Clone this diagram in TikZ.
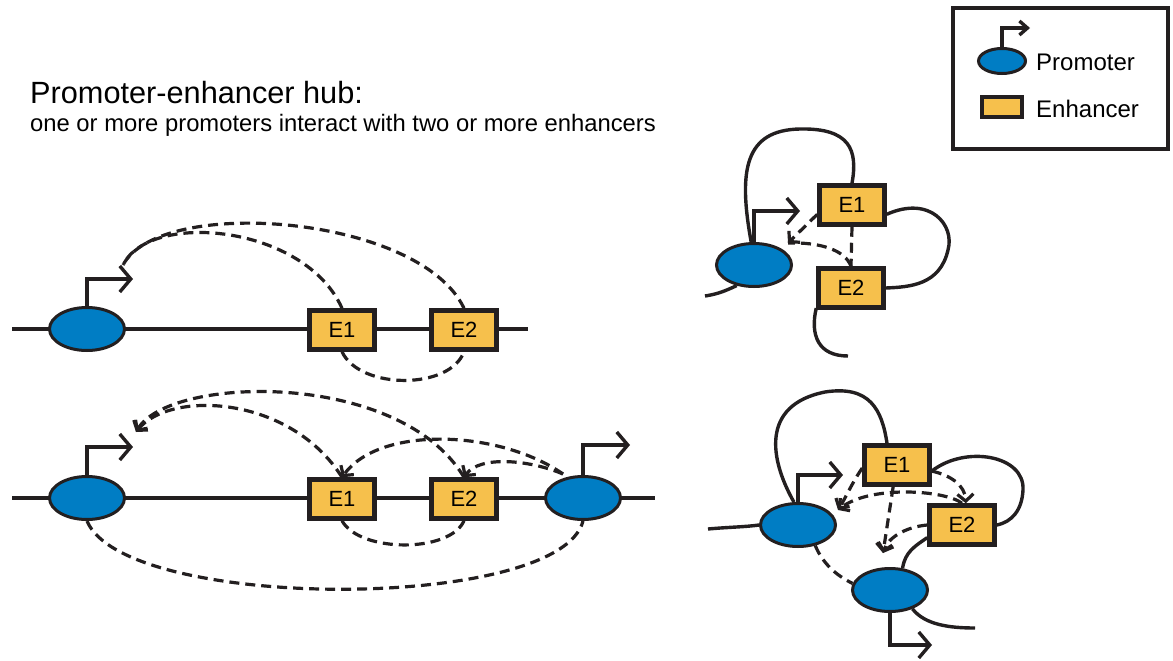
\documentclass[tikz,border=0pt]{standalone}
\usepackage{fontspec}
\setmainfont{Liberation Sans}
\usetikzlibrary{shapes.geometric,arrows.meta}
\definecolor{pblue}{RGB}{0,125,196}
\definecolor{eyellow}{RGB}{246,192,76}
\definecolor{ink}{RGB}{35,31,32}
\tikzset{
  dna/.style={line width=3.4pt,color=ink},
  prom/.style={ellipse,draw=ink,fill=pblue,line width=3pt,minimum width=75pt,minimum height=43pt,inner sep=0pt},
  enh/.style={rectangle,draw=ink,fill=eyellow,line width=4.5pt,minimum width=65pt,minimum height=39pt,inner sep=0pt,font=\fontsize{22}{24}\selectfont},
  tss/.style={line width=3.4pt,color=ink,-{Straight Barb[length=11pt,width=26pt]}},
  loopy/.style={line width=3.2pt,color=ink,dash pattern=on 10pt off 6pt},
  contact/.style={loopy,-{Straight Barb[length=7pt,width=16pt]}},
  lbl/.style={anchor=base west,inner sep=0pt}
}
\begin{document}
\begin{tikzpicture}[x=1pt,y=-1pt]
\useasboundingbox (0,0) rectangle (1173,661);
\node[lbl,font=\fontsize{30.7}{36}\selectfont] (ttl) at (30,103) {Promoter-enhancer hub:};
\node[lbl,font=\fontsize{23.8}{28}\selectfont] (sub) at (30,131) {one or more promoters interact with two or more enhancers};
% legend
\draw[line width=4.5pt,color=ink] (953,8) rectangle (1168,149);
\node[prom,minimum width=47pt,minimum height=25pt] (lp) at (1002,61) {};
\draw[tss,-{Straight Barb[length=8pt,width=14pt]}] (lp.north) |- (1030,28);
\node[enh,minimum width=40pt,minimum height=20pt] (le) at (1002,107) {};
\node[anchor=west,inner sep=0pt,font=\fontsize{24}{28}\selectfont] (ltp) at (1036,62) {Promoter};
\node[anchor=west,inner sep=0pt,font=\fontsize{24}{28}\selectfont] (lte) at (1036,109) {Enhancer};
% top linear
\draw[dna] (12,329) -- (528,329);
\node[prom] (pa) at (87,329) {};
\node[enh] (ea1) at (342,330) {E1};
\node[enh] (ea2) at (464,330) {E2};
\draw[tss] (pa.north) |- (133,279);
\coordinate (ja) at (123,265);
\draw[loopy] (ea1.north) .. controls (305,225) and (150,210) .. (ja);
\draw[loopy] (ea2.north) .. controls (420,215) and (160,195) .. (ja);
\draw[loopy] (ea1.south) .. controls (360,390) and (450,390) .. (ea2.south);
% bottom linear
\draw[dna] (12,498) -- (655,498);
\node[prom] (pb) at (87,498) {};
\node[enh] (eb1) at (342,499) {E1};
\node[enh] (eb2) at (464,499) {E2};
\node[prom] (pc) at (583,498) {};
\draw[tss] (pb.north) |- (133,447);
\draw[tss] (pc.north) |- (630,445);
\coordinate (jb) at (136,432);
\coordinate (jc) at (563,474);
\draw[contact] (eb1.north) .. controls (290,395) and (170,390) .. (jb);
\draw[contact] (eb2.north) .. controls (400,370) and (170,375) .. (jb);
\draw[contact] (jc) .. controls (500,430) and (380,425) .. (eb1.north);
\draw[contact] (jc) .. controls (530,460) and (480,455) .. (eb2.north);
\draw[loopy] (eb1.south) .. controls (360,553) and (450,553) .. (eb2.south);
\draw[loopy] (pb.south) .. controls (125,612) and (560,612) .. (pc.south);
% top hub
\node[prom] (hp) at (754,265) {};
\node[enh] (hx1) at (852,205) {E1};
\node[enh] (hx2) at (851,288) {E2};
\draw[tss] (hp.north) |- (800,211);
\coordinate (hr) at (705,296);
\coordinate (hk) at (848,356);
\coordinate (jd) at (788,243);
\draw[dna] (hp.97) .. controls (738,170) and (745,130) .. (800,129) .. controls (850,128) and (858,150) .. (hx1.north);
\draw[dna] (hx1.-15) .. controls (930,195) and (955,225) .. (948,250) .. controls (940,285) and (910,287) .. (hx2.east);
\draw[dna] (hx2.-150) .. controls (810,335) and (818,356) .. (hk);
\draw[dna] (hr) .. controls (718,294) and (725,291) .. (hp.-130);
\draw[contact] (hx1.195) -- (jd);
\draw[loopy] (hx2.north) .. controls (845,250) and (820,242) .. (jd);
\draw[loopy] (hx1.south) -- (hx2.north);
% bottom hub
\node[prom] (hq1) at (798,525) {};
\node[prom] (hq2) at (890,590) {};
\node[enh] (hf1) at (897,465) {E1};
\node[enh] (hf2) at (962,525) {E2};
\draw[tss] (hq1.north) |- (843,475);
\draw[tss] (hq2.south) |- (932,645);
\coordinate (hs) at (708,529);
\coordinate (ht) at (975,628);
\coordinate (je) at (838,510);
\coordinate (jf) at (883,553);
\draw[dna] (hq1.100) .. controls (770,460) and (760,405) .. (825,392) .. controls (870,385) and (882,410) .. ([xshift=-10pt]hf1.north);
\draw[dna] (hf1.-10) .. controls (965,445) and (1025,455) .. (1023,490) .. controls (1022,510) and (1012,522) .. (hf2.east);
\draw[dna] (hq2.60) .. controls (905,552) and (915,546) .. (hf2.200);
\draw[dna] (hq2.-40) .. controls (925,625) and (950,628) .. (ht);
\draw[dna] (hs) .. controls (730,527) and (745,527) .. (hq1.west);
\draw[contact] (hf1.185) .. controls (852,483) and (846,497) .. (je);
\draw[contact] (hf2.north) .. controls (945,490) and (870,485) .. (je);
\draw[contact] (hf1.-10) .. controls (950,475) and (965,485) .. (hf2.80);
\draw[contact] (hf1.-100) -- (jf);
\draw[contact] (hf2.west) .. controls (905,527) and (888,538) .. (jf);
\draw[loopy] (hq1.-50) .. controls (822,562) and (835,575) .. (hq2.170);
\end{tikzpicture}
\end{document}
